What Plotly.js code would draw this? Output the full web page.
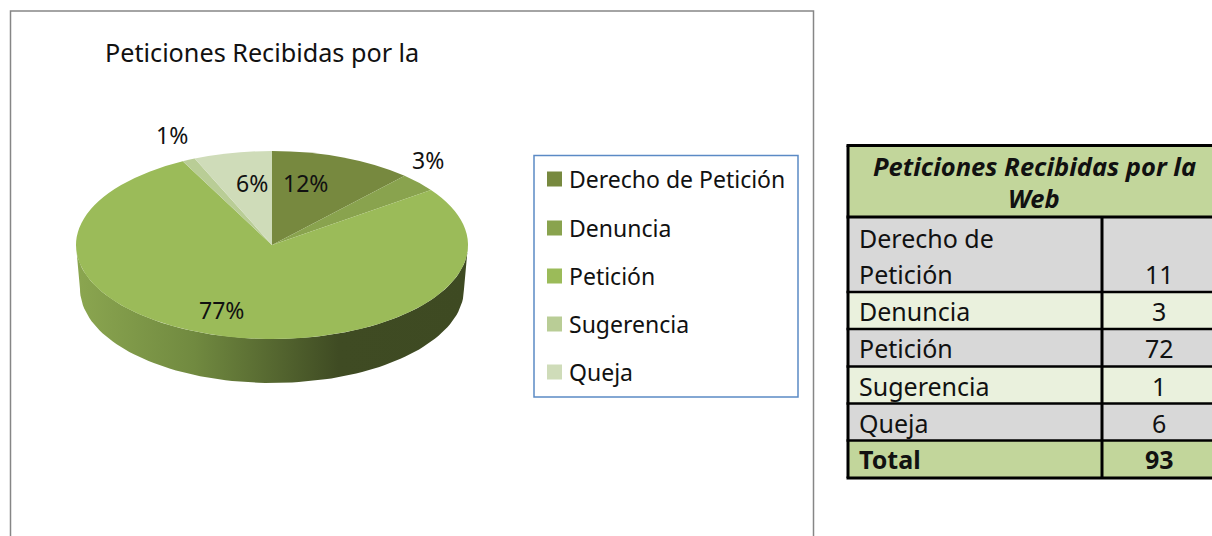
<!DOCTYPE html>
<html>
<head>
<meta charset="utf-8">
<script src="https://cdn.plot.ly/plotly-3.0.1.min.js"></script>
<style>html,body{margin:0;padding:0;background:#fff;overflow:hidden}#chart{width:1212px;height:536px}</style>
</head>
<body>
<div id="chart"></div>
<script>
// Data
const categories = ['Derecho de Petición', 'Denuncia', 'Petición', 'Sugerencia', 'Queja'];
const values = [11, 3, 72, 1, 6];
const chartTitle = 'Peticiones Recibidas por la';
const tableTitleLines = ['Peticiones Recibidas por la', 'Web'];
const totalLabel = 'Total';

// Styles
const sliceColors = ['#77893f', '#89a34e', '#9bbb59', '#b9cd96', '#cfdcb9'];
const FONT = '"Noto Sans", "Open Sans", sans-serif';
const TEXT = '#111111';

// Layout helpers: the hidden axes run in page pixels
const W = 1212, H = 536;
const pie = {cx: 272, cy: 245, rx: 196, ry: 94, depth: 44};
const total = values.reduce((a, b) => a + b, 0);
const pct = v => Math.round(v / total * 100) + '%';

const rim = {x: [], y: []};
for (let d = 180; d >= 0; d -= 2) {
  rim.x.push(pie.cx + pie.rx * Math.cos(d * Math.PI / 180));
  rim.y.push(pie.cy + pie.ry * Math.sin(d * Math.PI / 180));
}
for (let d = 0; d <= 180; d += 2) {
  rim.x.push(pie.cx + (pie.rx - 4) * Math.cos(d * Math.PI / 180));
  rim.y.push(pie.cy + pie.depth + pie.ry * Math.sin(d * Math.PI / 180));
}

const traces = [
  {
    type: 'scatter', mode: 'lines', x: rim.x, y: rim.y, fill: 'toself',
    line: {width: 0, color: 'rgba(0,0,0,0)'},
    fillgradient: {type: 'horizontal', colorscale: [[0, '#8ba650'], [0.3, '#718a40'], [0.67, '#3f4b23'], [1, '#3e4a22']]},
    hoverinfo: 'skip', showlegend: false
  },
  {
    type: 'pie', labels: categories, values: values, sort: false, direction: 'clockwise', rotation: 0,
    marker: {colors: sliceColors, line: {width: 0}},
    textinfo: 'none', showlegend: false,
    domain: {
      x: [(pie.cx - pie.rx) / W, (pie.cx + pie.rx) / W],
      y: [1 - (pie.cy + pie.rx) / H, 1 - (pie.cy - pie.rx) / H]
    }
  }
];

const shapes = [];
const annotations = [];
const text = (s, x, y, size, anchor, extra) => annotations.push(Object.assign({
  text: s, x: x, y: y, xref: 'x', yref: 'y', showarrow: false, xanchor: anchor || 'center', yanchor: 'middle',
  font: {family: FONT, size: size, color: TEXT}
}, extra || {}));
const rect = (x0, y0, x1, y1, fill, lineColor, lineWidth) => shapes.push({
  type: 'rect', xref: 'x', yref: 'y', x0, y0, x1, y1,
  fillcolor: fill || 'rgba(0,0,0,0)', line: {color: lineColor || 'rgba(0,0,0,0)', width: lineWidth || 0}
});

// Chart frame and title
rect(10.5, 11, 813.5, 560, null, '#868686', 1.5);
text(chartTitle, 103, 52, 25.2, 'left');

// Percent labels
const labelPos = [[305, 183], [428, 160], [221, 310], [172, 135], [252, 183]];
values.forEach((v, i) => text(pct(v), labelPos[i][0], labelPos[i][1], 23));

// Legend
rect(534, 155.5, 798, 397, '#ffffff', '#5b8ac5', 1.5);
const legendY = [179, 228, 276, 324, 372];
categories.forEach((c, i) => {
  rect(547, legendY[i] - 7.5, 562, legendY[i] + 7.5, sliceColors[i]);
  text(c, 567, legendY[i], 23, 'left');
});

// Table
const colX = [848, 1102, 1225];
const rowY = [145.5, 217, 292, 329, 366.5, 403.5, 440.5, 478];
const rowFill = ['#d8d8d8', '#eaf1dd', '#d8d8d8', '#eaf1dd', '#d8d8d8'];
const headerFill = '#c2d69b';
rect(colX[0], rowY[0], colX[2], rowY[1], headerFill);
categories.forEach((c, i) => {
  rect(colX[0], rowY[i + 1], colX[1], rowY[i + 2], rowFill[i]);
  rect(colX[1], rowY[i + 1], colX[2], rowY[i + 2], rowFill[i]);
});
rect(colX[0], rowY[6], colX[2], rowY[7], headerFill);
rowY.forEach(y => shapes.push({type: 'line', xref: 'x', yref: 'y', x0: colX[0] - 1.5, x1: colX[2], y0: y, y1: y,
  line: {color: '#000000', width: y === rowY[0] || y === rowY[1] || y === rowY[7] ? 3 : 2.5}}));
shapes.push({type: 'line', xref: 'x', yref: 'y', x0: colX[0], x1: colX[0], y0: rowY[0], y1: rowY[7], line: {color: '#000000', width: 3}});
shapes.push({type: 'line', xref: 'x', yref: 'y', x0: colX[1], x1: colX[1], y0: rowY[1], y1: rowY[7], line: {color: '#000000', width: 3}});

text('<b><i>' + tableTitleLines[0] + '</i></b>', 1034, 166, 25.5);
text('<b><i>' + tableTitleLines[1] + '</i></b>', 1034, 198, 25.5);
const firstBreak = categories[0].lastIndexOf(' ');
text(categories[0].slice(0, firstBreak), 857, 238, 25, 'left');
text(categories[0].slice(firstBreak + 1), 857, 274, 25, 'left');
text(String(values[0]), 1159, 274, 25);
[1, 2, 3, 4].forEach(i => {
  const y = (rowY[i + 1] + rowY[i + 2]) / 2 + 0.5;
  text(categories[i], 857, y, 25, 'left');
  text(String(values[i]), 1159, y, 25);
});
text('<b>' + totalLabel + '</b>', 857, 459, 25, 'left');
text('<b>' + total + '</b>', 1159, 459, 25);

const layout = {
  width: W, height: H, margin: {l: 0, r: 0, t: 0, b: 0, pad: 0},
  paper_bgcolor: '#ffffff', plot_bgcolor: '#ffffff', showlegend: false,
  font: {family: FONT},
  xaxis: {range: [0, W], visible: false, fixedrange: true},
  yaxis: {range: [H, 0], visible: false, fixedrange: true},
  shapes: shapes, annotations: annotations
};

Plotly.newPlot('chart', traces, layout, {displayModeBar: false}).then(gd => {
  // Tilt the pie into the reference's flattened ellipse
  const k = pie.ry / pie.rx;
  gd.querySelectorAll('.pielayer').forEach(el => {
    el.setAttribute('transform', `translate(0,${pie.cy}) scale(1,${k}) translate(0,${-pie.cy})`);
  });
});
</script>
</body>
</html>
